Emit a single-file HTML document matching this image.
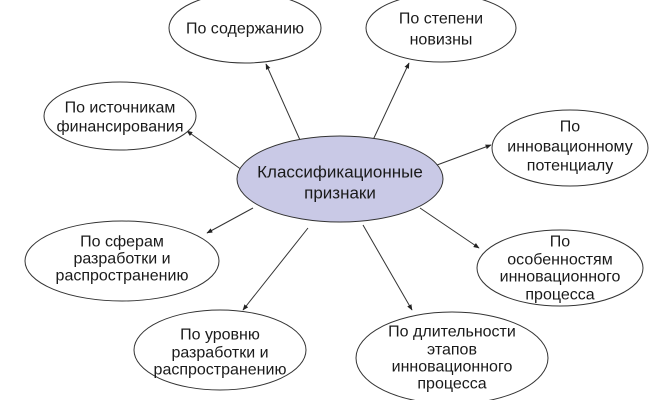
<!DOCTYPE html>
<html><head><meta charset="utf-8"><style>
html,body{margin:0;padding:0;background:#fff;width:660px;height:400px;overflow:hidden}
svg text{font-family:"Liberation Sans",Arial,sans-serif;font-size:16px;fill:#1a1a1a;text-anchor:middle;dominant-baseline:central}
</style></head><body>
<svg width="660" height="400" viewBox="0 0 660 400" xmlns="http://www.w3.org/2000/svg">
<defs><marker id="a" viewBox="0 0 10 10" refX="9" refY="5" markerWidth="6" markerHeight="6" orient="auto"><path d="M0,1 L10,5 L0,9 z" fill="#222"/></marker></defs>
<g stroke="#333" stroke-width="1" fill="none" marker-end="url(#a)">
<line x1="300" y1="140" x2="266" y2="64"/>
<line x1="373" y1="140" x2="409" y2="63"/>
<line x1="242" y1="170" x2="187" y2="131"/>
<line x1="437" y1="165" x2="491" y2="145"/>
<line x1="253" y1="208" x2="207" y2="233"/>
<line x1="308" y1="228" x2="243" y2="310"/>
<line x1="363" y1="225" x2="412" y2="310"/>
<line x1="420" y1="208" x2="479" y2="248"/>
</g>
<g stroke="#333" stroke-width="1" fill="#fff">
<ellipse cx="245" cy="28" rx="76" ry="35"/>
<ellipse cx="441" cy="28" rx="75" ry="34"/>
<ellipse cx="120" cy="116" rx="76" ry="34"/>
<ellipse cx="570" cy="148" rx="78" ry="38"/>
<ellipse cx="122" cy="261" rx="97" ry="40"/>
<ellipse cx="560" cy="268" rx="83" ry="38"/>
<ellipse cx="220" cy="350" rx="86" ry="40"/>
<ellipse cx="452" cy="358" rx="96" ry="46"/>
<ellipse cx="340" cy="179" rx="103" ry="43" fill="#c9c9e6"/>
</g>
<text x="245" y="29">По содержанию</text>
<text x="441" y="19">По степени</text><text x="441" y="40">новизны</text>
<text x="120" y="108">По источникам</text><text x="120" y="127">финансирования</text>
<text x="570" y="127">По</text><text x="570" y="147">инновационному</text><text x="570" y="166">потенциалу</text>
<text x="340" y="172" style="font-size:17px">Классификационные</text><text x="340" y="193" style="font-size:17px">признаки</text>
<text x="122" y="242">По сферам</text><text x="122" y="259">разработки и</text><text x="122" y="276">распространению</text>
<text x="560" y="242">По</text><text x="560" y="260">особенностям</text><text x="560" y="277">инновационного</text><text x="560" y="295">процесса</text>
<text x="220" y="335">По уровню</text><text x="220" y="353">разработки и</text><text x="220" y="370">распространению</text>
<text x="452" y="332">По длительности</text><text x="452" y="350">этапов</text><text x="452" y="367">инновационного</text><text x="452" y="384">процесса</text>
</svg>
</body></html>
